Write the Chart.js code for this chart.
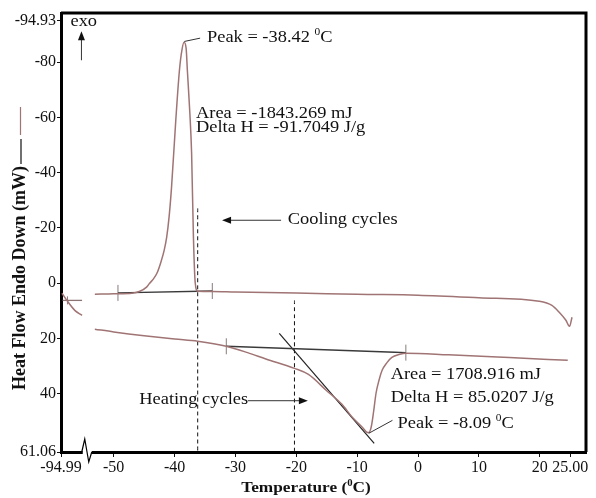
<!DOCTYPE html>
<html>
<head>
<meta charset="utf-8">
<script src="https://cdn.jsdelivr.net/npm/chart.js@4.4.0/dist/chart.umd.min.js"></script>
<style>
  html, body { margin: 0; padding: 0; background: #fff; }
  #wrap { width: 596px; height: 498px; }
</style>
</head>
<body>
<div id="wrap"><canvas id="dsc"></canvas></div>
<script>
// cooling run (exo peak)
const coolT  = [-53.1, -50, -47, -45.7, -44.6, -44.1, -43.5, -42.9, -42.2, -41.7, -41.3, -40.9, -40.5, -39.8, -39.2, -38.8, -38.44, -38.1, -37.9, -37.5, -37.2, -36.9, -36.6, -36.2, -33.8, -30, -20, -10, 0, 10, 19.9, 22, 23.2, 24.3, 24.9, 25.3];
const coolHF = [4.0, 3.8, 3.6, 2.9, 1.4, 0, -1.5, -3.6, -8, -12, -16.6, -24, -34.7, -59, -77.1, -84.3, -87.2, -85, -77.1, -62, -47, -16.6, 0, 2.9, 3.0, 3.2, 3.5, 4.0, 4.3, 5.2, 6.5, 8.0, 10.5, 13.4, 15.6, 12.3];

// heating run (endo peak)
const heatT  = [-53.1, -50, -45, -40, -36.2, -31.5, -28, -25, -20.3, -18, -15.1, -12.5, -10.8, -9.2, -8.4, -8.09, -7.7, -7.3, -6.9, -6.4, -5.9, -5.1, -4.3, -3, -2, 5, 15, 24.6];
const heatHF = [16.6, 17.6, 19.0, 20.2, 21.0, 22.8, 25.1, 27.4, 30.8, 33.0, 38.7, 43.8, 48.5, 52.0, 53.9, 54.0, 52.1, 46.5, 39.8, 35.0, 31.5, 28.7, 26.8, 25.7, 25.3, 25.9, 26.9, 27.9];

// piece shown left of the axis break (near -94.99)
const leftT  = [-58.5, -57.7, -56.4, -55.2];
const leftHF = [3.6, 6.2, 9.8, 11.6];
const flatT  = [-58.4, -55.2];
const flatHF = [6.2, 6.2];

// integration baselines, onset tangent, limits
const coolBaseT  = [-49.3, -33.8];
const coolBaseHF = [3.5, 2.8];
const heatBaseT  = [-31.5, -2];
const heatBaseHF = [22.8, 25.1];
const tangentT   = [-22.8, -7.2];
const tangentHF  = [18.1, 57.9];
const markT  = [-49.3, -33.8, -31.5, -2, -57.6];
const markHF = [3.5, 2.8, 22.8, 25.1, 6.2];

// dashed guide lines (temperature, top value)
const guideT   = [-36.2, -20.3];
const guideTop = [-27.1, 6.2];

// axes
const xTickVals = [-58.66, -50, -40, -30, -20, -10, 0, 10, 20, 25];
const xTickText = ['-94.99', '-50', '-40', '-30', '-20', '-10', '0', '10', '20', '25.00'];
const yTickVals = [-94.93, -80, -60, -40, -20, 0, 20, 40, 61.06];
const yTickText = ['-94.93', '-80', '-60', '-40', '-20', '0', '20', '40', '61.06'];
const X_MIN = -58.66, X_MAX = 27.6, Y_MIN = -97.8, Y_MAX = 61.06;
const BREAK_T = -55.25;

const pts = (xs, ys) => xs.map((x, i) => ({ x: x, y: ys[i] }));

const CURVE = '#a07474';
const SERIF = '"Liberation Serif", "Times New Roman", serif';

Chart.defaults.font.family = SERIF;
Chart.defaults.color = '#111';

function line(data, color, width, extra) {
  return Object.assign({
    data: data, showLine: true, borderColor: color, borderWidth: width,
    pointRadius: 0, fill: false, cubicInterpolationMode: 'monotone'
  }, extra || {});
}

const datasets = [
  line(pts(coolT, coolHF), CURVE, 1.5),
  line(pts(heatT, heatHF), CURVE, 1.5),
  line(pts(leftT, leftHF), CURVE, 1.5),
  line(pts(flatT, flatHF), '#8a7474', 1.3),
  line(pts(coolBaseT, coolBaseHF), '#3a3a3a', 1.3),
  line(pts(heatBaseT, heatBaseHF), '#3a3a3a', 1.3),
  line(pts(tangentT, tangentHF), '#222', 1.2),
  {
    data: pts(markT, markHF), showLine: false,
    pointStyle: 'line', rotation: 90, pointRadius: markT.map((t, i) => i === 4 ? 4 : 8),
    borderColor: '#8a7a7a', borderWidth: 1
  }
];
guideT.forEach((t, i) => {
  datasets.push(line([{ x: t, y: guideTop[i] }, { x: t, y: Y_MAX }], '#111', 1, { borderDash: [4, 3] }));
});

// rich text with superscript parts, optionally stretched horizontally
function rich(ctx, parts, x, y, size, sx, bold, align) {
  ctx.save();
  ctx.textBaseline = 'middle';
  ctx.textAlign = 'left';
  ctx.fillStyle = '#111';
  const fontFor = p => (bold ? 'bold ' : '') + (p.sup ? size * 0.62 : size) + 'px ' + SERIF;
  let w = 0;
  parts.forEach(p => { ctx.font = fontFor(p); w += ctx.measureText(p.t).width; });
  ctx.translate(x, y);
  ctx.scale(sx, 1);
  let cx = align === 'center' ? -w / 2 : 0;
  parts.forEach(p => {
    ctx.font = fontFor(p);
    ctx.fillText(p.t, cx, p.sup ? -size * 0.3 : 0);
    cx += ctx.measureText(p.t).width;
  });
  ctx.restore();
}

function arrow(ctx, x1, y1, x2, y2) {
  const a = Math.atan2(y2 - y1, x2 - x1);
  ctx.beginPath();
  ctx.moveTo(x1, y1);
  ctx.lineTo(x2 - 6 * Math.cos(a), y2 - 6 * Math.sin(a));
  ctx.stroke();
  ctx.beginPath();
  ctx.moveTo(x2, y2);
  ctx.lineTo(x2 - 9 * Math.cos(a) + 3.5 * Math.sin(a), y2 - 9 * Math.sin(a) - 3.5 * Math.cos(a));
  ctx.lineTo(x2 - 9 * Math.cos(a) - 3.5 * Math.sin(a), y2 - 9 * Math.sin(a) + 3.5 * Math.cos(a));
  ctx.closePath();
  ctx.fill();
}

const notes = {
  id: 'notes',
  afterDraw(chart) {
    const ctx = chart.ctx;
    const xs = chart.scales.x, ys = chart.scales.y;
    const X = v => xs.getPixelForValue(v), Y = v => ys.getPixelForValue(v);
    const a = chart.chartArea;

    // frame top + right
    ctx.save();
    ctx.strokeStyle = '#000';
    ctx.lineWidth = 3;
    ctx.beginPath();
    ctx.moveTo(a.left, a.top);
    ctx.lineTo(a.right, a.top);
    ctx.lineTo(a.right, a.bottom);
    ctx.stroke();

    // axis break
    const bx = X(BREAK_T), by = a.bottom;
    ctx.fillStyle = '#fff';
    ctx.fillRect(bx + 1, by - 2, 9, 4);
    ctx.lineWidth = 1.2;
    ctx.beginPath();
    ctx.moveTo(bx, by);
    ctx.lineTo(bx + 3, by - 13);
    ctx.lineTo(bx + 7, by + 10);
    ctx.lineTo(bx + 10, by);
    ctx.stroke();

    ctx.strokeStyle = '#333';
    ctx.fillStyle = '#111';
    ctx.lineWidth = 1;

    // cooling peak labels
    ctx.beginPath();
    ctx.moveTo(X(-38.4), Y(-87.5));
    ctx.lineTo(X(-35.8), Y(-88.7));
    ctx.stroke();
    rich(ctx, [{ t: 'Peak = -38.42 ' }, { t: '0', sup: true }, { t: 'C' }], X(-34.67), Y(-89.0), 16, 1.15);
    rich(ctx, [{ t: 'Area = -1843.269 mJ' }], X(-36.48), Y(-61.5), 16, 1.15);
    rich(ctx, [{ t: 'Delta H = -91.7049 J/g' }], X(-36.48), Y(-56.1), 16, 1.15);

    // cooling arrow
    arrow(ctx, X(-22.5), Y(-22.8), X(-32.2), Y(-22.8));
    rich(ctx, [{ t: 'Cooling cycles' }], X(-21.4), Y(-22.8), 16, 1.15);

    // heating arrow
    rich(ctx, [{ t: 'Heating cycles' }], X(-45.8), Y(42.3), 16, 1.15);
    arrow(ctx, X(-27.95), Y(42.5), X(-18.1), Y(42.5));

    // heating peak labels
    rich(ctx, [{ t: 'Area = 1708.916 mJ' }], X(-4.5), Y(33.3), 16, 1.15);
    rich(ctx, [{ t: 'Delta H = 85.0207 J/g' }], X(-4.5), Y(41.3), 16, 1.15);
    ctx.beginPath();
    ctx.moveTo(X(-8.1), Y(54.3));
    ctx.lineTo(X(-4.2), Y(49.6));
    ctx.stroke();
    rich(ctx, [{ t: 'Peak = -8.09 ' }, { t: '0', sup: true }, { t: 'C' }], X(-3.36), Y(50.7), 16, 1.15);

    // exo marker
    rich(ctx, [{ t: 'exo' }], X(-57.1), Y(-94.5), 16, 1.15);
    arrow(ctx, X(-55.3), Y(-80.7), X(-55.3), Y(-91.2));

    // x title
    rich(ctx, [{ t: 'Temperature (' }, { t: '0', sup: true }, { t: 'C)' }], 306, 488, 15, 1.15, true, 'center');

    // y title with series line sample
    ctx.save();
    ctx.translate(20.5, 390);
    ctx.rotate(-Math.PI / 2);
    ctx.font = 'bold 18px ' + SERIF;
    ctx.textBaseline = 'middle';
    ctx.fillText('Heat Flow Endo Down (mW)', 0, 0);
    const w = ctx.measureText('Heat Flow Endo Down (mW)').width;
    ctx.strokeStyle = '#111';
    ctx.lineWidth = 1.2;
    ctx.beginPath();
    ctx.moveTo(w + 2, 0.5);
    ctx.lineTo(w + 27, 0.5);
    ctx.stroke();
    ctx.strokeStyle = CURVE;
    ctx.beginPath();
    ctx.moveTo(w + 31, 0);
    ctx.lineTo(w + 59, 0);
    ctx.stroke();
    ctx.restore();

    ctx.restore();
  }
};

new Chart(document.getElementById('dsc'), {
  type: 'scatter',
  data: { datasets: datasets },
  options: {
    responsive: true,
    maintainAspectRatio: false,
    animation: false,
    layout: { padding: { top: 13, right: 10, left: 0, bottom: 0 } },
    plugins: { legend: { display: false }, tooltip: { enabled: false } },
    scales: {
      x: {
        type: 'linear',
        min: X_MIN,
        max: X_MAX,
        afterBuildTicks: s => { s.ticks = xTickVals.map(v => ({ value: v })); },
        afterFit: s => { s.height = 46; },
        border: { display: true, color: '#000', width: 3 },
        grid: { drawOnChartArea: false, tickLength: 5, color: '#111', lineWidth: 1 },
        ticks: {
          autoSkip: false, maxRotation: 0, padding: 1,
          font: { size: 16 }, color: '#111',
          callback: (v, i) => xTickText[i]
        }
      },
      y: {
        type: 'linear',
        reverse: true,
        min: Y_MIN,
        max: Y_MAX,
        afterBuildTicks: s => { s.ticks = yTickVals.map(v => ({ value: v })); },
        afterFit: s => { s.width = 61; },
        border: { display: true, color: '#000', width: 3 },
        grid: { drawOnChartArea: false, tickLength: 4, color: '#111', lineWidth: 1 },
        ticks: {
          autoSkip: false, padding: 1,
          font: { size: 16 }, color: '#111',
          callback: (v, i) => yTickText[i]
        }
      }
    }
  },
  plugins: [notes]
});
</script>
</body>
</html>
